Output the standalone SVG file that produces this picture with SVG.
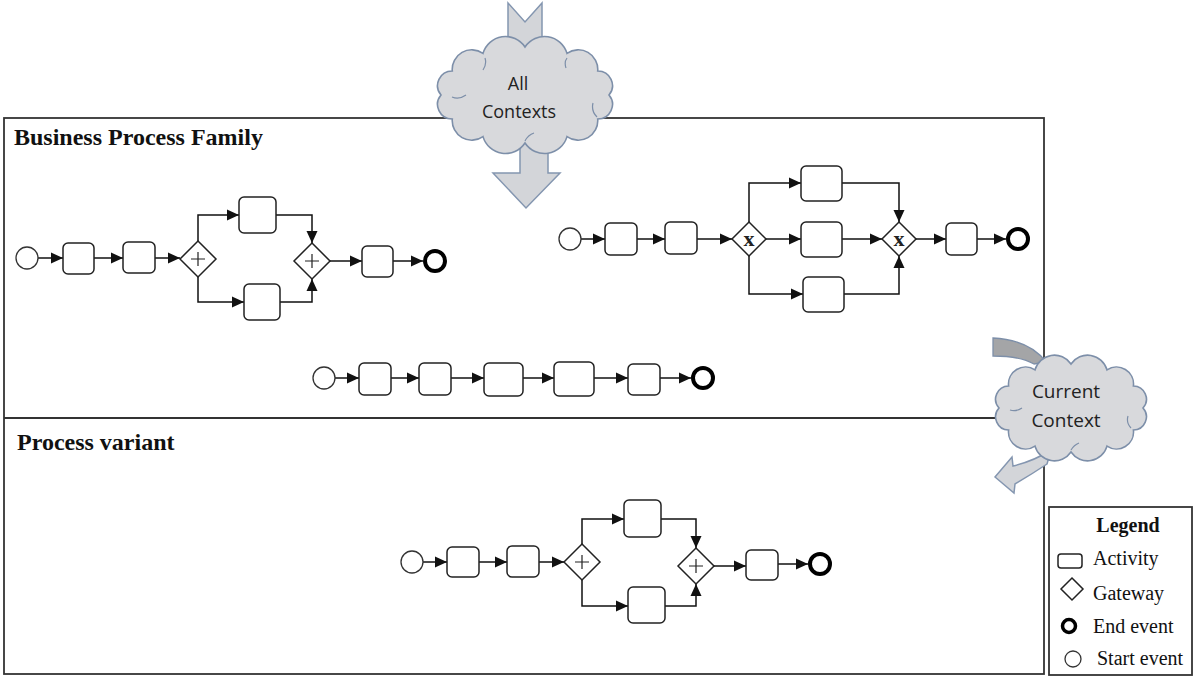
<svg xmlns="http://www.w3.org/2000/svg" width="1197" height="677" viewBox="0 0 1197 677">
<defs>
<marker id="ah" markerUnits="userSpaceOnUse" markerWidth="14" markerHeight="12" refX="12" refY="6" orient="auto">
<path d="M0,0.5 L12,6 L0,11.5 Z" fill="#111"/>
</marker>
<style>
.frame{fill:none;stroke:#333;stroke-width:1.8}
.act{fill:#fff;stroke:#222;stroke-width:1.5}
.gw{fill:#fff;stroke:#222;stroke-width:1.5}
.se{fill:#fff;stroke:#333;stroke-width:1.3}
.ee{fill:#fff;stroke:#000;stroke-width:4}
.cn{fill:none;stroke:#111;stroke-width:1.5;marker-end:url(#ah)}
.plus{stroke:#222;stroke-width:1.2}
.gx{font-family:"Liberation Serif",serif;font-weight:bold;font-size:22px;fill:#222;text-anchor:middle}
.cloud{fill:#d8d9dc;stroke:#7d8fa9;stroke-width:1.6}
.curl{fill:none;stroke:#7d8fa9;stroke-width:1.2}
.bigarrow{fill:#d3d5d9;stroke:#8496b0;stroke-width:1.5}
.darrow{fill:#a4a5a7;stroke:#7d8fa9;stroke-width:1.3}
.ctx{font-family:"Open Sans",sans-serif;font-size:18px;fill:#222;text-anchor:middle}
.title{font-family:"Liberation Serif",serif;font-weight:bold;font-size:24px;fill:#111}
.lg{font-family:"Liberation Serif",serif;font-size:20px;fill:#111}
</style>
</defs>
<rect width="1197" height="677" fill="#fff"/>

<g id="frame">
<rect class="frame" x="4" y="118" width="1040" height="556"/>
<line class="frame" x1="4" y1="418" x2="1044" y2="418"/>
<text class="title" x="14" y="145">Business Process Family</text>
<text class="title" x="17" y="450">Process variant</text>
</g>

<g id="connectors">
<!-- family diagram 1 -->
<line class="cn" x1="38" y1="258" x2="63" y2="258"/>
<line class="cn" x1="94" y1="258" x2="123" y2="258"/>
<line class="cn" x1="155" y1="258" x2="180" y2="258"/>
<path class="cn" d="M198,241 V215 H239"/>
<path class="cn" d="M198,277 V302 H244"/>
<path class="cn" d="M276,215 H312 V243"/>
<path class="cn" d="M280,302 H312 V279"/>
<line class="cn" x1="330" y1="261" x2="362" y2="261"/>
<line class="cn" x1="393" y1="261" x2="423" y2="261"/>
<!-- family diagram 2 -->
<line class="cn" x1="581" y1="239" x2="605" y2="239"/>
<line class="cn" x1="637" y1="239" x2="665" y2="239"/>
<line class="cn" x1="697" y1="239" x2="732" y2="239"/>
<path class="cn" d="M749,222 V183 H801"/>
<line class="cn" x1="766" y1="239" x2="801" y2="239"/>
<path class="cn" d="M749,256 V294 H803"/>
<path class="cn" d="M842,183 H899 V222"/>
<line class="cn" x1="842" y1="239" x2="882" y2="239"/>
<path class="cn" d="M844,294 H899 V256"/>
<line class="cn" x1="916" y1="239" x2="946" y2="239"/>
<line class="cn" x1="977" y1="239" x2="1006" y2="239"/>
<!-- family diagram 3 -->
<line class="cn" x1="335" y1="378" x2="359" y2="378"/>
<line class="cn" x1="391" y1="378" x2="419" y2="378"/>
<line class="cn" x1="451" y1="378" x2="484" y2="378"/>
<line class="cn" x1="523" y1="378" x2="554" y2="378"/>
<line class="cn" x1="594" y1="378" x2="628" y2="378"/>
<line class="cn" x1="660" y1="378" x2="691" y2="378"/>
<!-- variant -->
<line class="cn" x1="423" y1="562" x2="447" y2="562"/>
<line class="cn" x1="479" y1="562" x2="507" y2="562"/>
<line class="cn" x1="539" y1="562" x2="564" y2="562"/>
<path class="cn" d="M582,544 V519 H624"/>
<path class="cn" d="M582,580 V606 H628"/>
<path class="cn" d="M661,519 H696 V548"/>
<path class="cn" d="M665,606 H696 V584"/>
<line class="cn" x1="714" y1="566" x2="746" y2="566"/>
<line class="cn" x1="778" y1="564" x2="808" y2="564"/>
</g>

<g id="family1">
<circle class="se" cx="27" cy="258" r="11"/>
<rect class="act" x="63" y="243" width="31" height="31" rx="5"/>
<rect class="act" x="123" y="242" width="32" height="31" rx="5"/>
<path class="gw" d="M198,241 L216,259 L198,277 L180,259 Z"/>
<path class="plus" d="M198,252 V266 M191,259 H205"/>
<rect class="act" x="239" y="197" width="37" height="36" rx="5"/>
<rect class="act" x="244" y="284" width="36" height="36" rx="5"/>
<path class="gw" d="M312,243 L330,261 L312,279 L294,261 Z"/>
<path class="plus" d="M312,254 V268 M305,261 H319"/>
<rect class="act" x="362" y="246" width="31" height="31" rx="5"/>
<circle class="ee" cx="435" cy="261" r="10"/>
</g>

<g id="family2">
<circle class="se" cx="570" cy="239" r="11"/>
<rect class="act" x="605" y="223" width="32" height="32" rx="5"/>
<rect class="act" x="665" y="222" width="32" height="32" rx="5"/>
<path class="gw" d="M749,222 L766,239 L749,256 L732,239 Z"/>
<text class="gx" x="749" y="246">x</text>
<rect class="act" x="801" y="166" width="41" height="35" rx="5"/>
<rect class="act" x="801" y="222" width="41" height="35" rx="5"/>
<rect class="act" x="803" y="277" width="41" height="35" rx="5"/>
<path class="gw" d="M899,222 L916,239 L899,256 L882,239 Z"/>
<text class="gx" x="899" y="246">x</text>
<rect class="act" x="946" y="223" width="31" height="32" rx="5"/>
<circle class="ee" cx="1018" cy="239" r="10"/>
</g>

<g id="family3">
<circle class="se" cx="324" cy="378" r="11"/>
<rect class="act" x="359" y="363" width="32" height="32" rx="5"/>
<rect class="act" x="419" y="363" width="32" height="32" rx="5"/>
<rect class="act" x="484" y="363" width="39" height="33" rx="5"/>
<rect class="act" x="554" y="362" width="40" height="34" rx="5"/>
<rect class="act" x="628" y="364" width="32" height="31" rx="5"/>
<circle class="ee" cx="703" cy="378" r="10"/>
</g>

<g id="variant">
<circle class="se" cx="412" cy="562" r="11"/>
<rect class="act" x="447" y="547" width="32" height="30" rx="5"/>
<rect class="act" x="507" y="546" width="32" height="31" rx="5"/>
<path class="gw" d="M582,544 L600,562 L582,580 L564,562 Z"/>
<path class="plus" d="M582,555 V569 M575,562 H589"/>
<rect class="act" x="624" y="500" width="37" height="37" rx="5"/>
<rect class="act" x="628" y="587" width="37" height="36" rx="5"/>
<path class="gw" d="M696,548 L714,566 L696,584 L678,566 Z"/>
<path class="plus" d="M696,559 V573 M689,566 H703"/>
<rect class="act" x="746" y="550" width="32" height="30" rx="5"/>
<circle class="ee" cx="820" cy="564" r="10"/>
</g>

<g id="all-contexts">
<path class="bigarrow" d="M508,3 L525,22 L542,3 L542,60 L508,60 Z"/>
<path class="bigarrow" d="M520,120 L548,120 L548,173 L560,173 L526,208 L493,173 L520,173 Z"/>
<path class="cloud" d="M609,95 A14.6,14.6 0 0 1 597.7,119 A19.5,19.5 0 0 1 567,136.6 A23.4,23.4 0 0 1 525,143 A23.4,23.4 0 0 1 483,136.6 A19.5,19.5 0 0 1 452.3,119 A14.6,14.6 0 0 1 441,95 A14.6,14.6 0 0 1 452.3,71 A19.5,19.5 0 0 1 483,53.4 A23.4,23.4 0 0 1 525,47 A23.4,23.4 0 0 1 567,53.4 A19.5,19.5 0 0 1 597.7,71 A14.6,14.6 0 0 1 609,95 Z"/>
<path class="curl" d="M452,97 q7,3 14,-2 M597,117 q-6,-6 -4,-14 M525,141 q3,-6 9,-8 M485,58 q2,6 -2,12 M567,58 q-3,4 -1,10"/>
<text class="ctx" x="518" y="90">All</text>
<text class="ctx" x="519" y="118">Contexts</text>
</g>

<g id="current-context">
<path class="darrow" d="M993,338 Q1030,340 1046,362 L1034,364 Q1020,356 993,356 Z"/>
<path class="bigarrow" d="M995,477 L1012,457 L1013,466 Q1034,461 1051,450 L1047,464 Q1032,474 1015,484 L1014,493 Z"/>
<path class="cloud" d="M1143,408 A13.2,13.2 0 0 1 1133.4,430 A17,17 0 0 1 1107,446.1 A20.1,20.1 0 0 1 1071,452 A20.1,20.1 0 0 1 1035,446.1 A17,17 0 0 1 1008.6,430 A13.2,13.2 0 0 1 999,408 A13.2,13.2 0 0 1 1008.6,386 A17,17 0 0 1 1035,369.9 A20.1,20.1 0 0 1 1071,364 A20.1,20.1 0 0 1 1107,369.9 A17,17 0 0 1 1133.4,386 A13.2,13.2 0 0 1 1143,408 Z"/>
<path class="curl" d="M1010,410 q6,2 12,-2 M1131,428 q-5,-5 -3,-12 M1071,450 q3,-5 8,-7"/>
<text class="ctx" x="1066" y="398" style="font-size:19px">Current</text>
<text class="ctx" x="1066" y="427" style="font-size:19px">Context</text>
</g>

<g id="legend">
<rect x="1049" y="507" width="143" height="168" fill="#fff" stroke="#333" stroke-width="1.8"/>
<text class="lg" x="1128" y="532" text-anchor="middle" font-weight="bold">Legend</text>
<rect class="act" x="1058" y="554" width="24" height="14" rx="3"/>
<text class="lg" x="1093" y="565">Activity</text>
<path class="gw" d="M1072,578 L1083,589 L1072,600 L1061,589 Z"/>
<text class="lg" x="1093" y="600">Gateway</text>
<circle cx="1069" cy="626" r="6.5" fill="#fff" stroke="#000" stroke-width="3.5"/>
<text class="lg" x="1093" y="633">End event</text>
<circle class="se" cx="1073" cy="659" r="8"/>
<text class="lg" x="1097" y="665">Start event</text>
</g>
</svg>
